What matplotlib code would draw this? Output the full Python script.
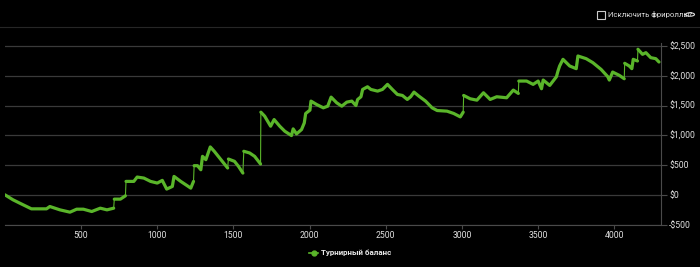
import matplotlib
matplotlib.use("Agg")
import matplotlib.pyplot as plt
from matplotlib.patches import Rectangle, Circle
from matplotlib.lines import Line2D
import numpy as np

plt.rcParams['font.family'] = ['Roboto', 'DejaVu Sans']

tournaments = [0, 53, 97, 174, 273, 295, 361, 427, 471, 515, 570, 626, 670, 714, 718, 758, 791, 795,
               846, 868, 912, 956, 1000, 1033, 1062, 1099, 1110, 1154, 1187, 1220, 1238, 1242, 1264,
               1286, 1297, 1319, 1348, 1374, 1418, 1462, 1467, 1507, 1533, 1562, 1568, 1606, 1639,
               1678, 1680, 1705, 1744, 1767, 1804, 1837, 1881, 1892, 1914, 1947, 1965, 1974, 2002,
               2009, 2046, 2090, 2119, 2141, 2178, 2211, 2244, 2277, 2304, 2315, 2337, 2348, 2380,
               2402, 2446, 2478, 2511, 2543, 2576, 2609, 2641, 2663, 2685, 2717, 2761, 2804, 2837,
               2902, 2946, 2989, 3008, 3011, 3054, 3098, 3141, 3185, 3228, 3293, 3337, 3370, 3373,
               3424, 3467, 3500, 3522, 3533, 3576, 3620, 3630, 3641, 3663, 3707, 3750, 3761, 3815,
               3859, 3913, 3957, 3967, 3989, 4033, 4065, 4068, 4098, 4115, 4124, 4152, 4155, 4185,
               4207, 4239, 4272, 4293]
balance = [0, -84, -140, -236, -236, -197, -253, -292, -242, -242, -281, -225, -253, -225, -73, -73,
           -17, 225, 225, 298, 281, 225, 197, 242, 96, 140, 309, 225, 169, 112, 225, 489, 489,
           421, 646, 590, 804, 731, 590, 450, 601, 562, 478, 365, 731, 703, 646,
           517, 1388, 1321, 1152, 1264, 1152, 1068, 995, 1107, 1023, 1096, 1208, 1366, 1422,
           1574, 1517, 1461, 1489, 1641, 1545, 1489, 1557, 1574, 1500, 1601, 1647, 1770, 1815,
           1770, 1742, 1770, 1855, 1770, 1686, 1669, 1602, 1647, 1725, 1658, 1574, 1461, 1416,
           1405, 1366, 1309, 1388, 1669, 1613, 1590, 1714, 1602, 1647, 1630, 1759, 1703, 1911,
           1911, 1855, 1911, 1782, 1928, 1838, 1984, 2079, 2164, 2276, 2164, 2119, 2332, 2287,
           2220, 2107, 1984, 1928, 2062, 2006, 1950, 2209, 2164, 2119, 2276, 2248, 2445, 2360,
           2388, 2304, 2287, 2231]
y_ticks = [-500, 0, 500, 1000, 1500, 2000, 2500]
y_labels = ['-$500', '$0', '$500', '$1,000', '$1,500', '$2,000', '$2,500']
x_ticks = [500, 1000, 1500, 2000, 2500, 3000, 3500, 4000]

GREEN = '#5ab52a'
BG = '#000000'
TXT = '#e0e0e0'

fig = plt.figure(figsize=(7, 2.67), dpi=100)
fig.patch.set_facecolor(BG)
ax = fig.add_axes([0.007, 0.159, 0.937, 0.681])
ax.set_facecolor(BG)

x = np.array(tournaments, dtype=float)
y = np.array(balance, dtype=float)
LW = 2.3
seg_x, seg_y = [x[0]], [y[0]]
for i in range(1, len(x)):
    dx = x[i] - x[i - 1]
    dy = y[i] - y[i - 1]
    if abs(dy) > 120 and dx <= 6:
        ax.plot(seg_x, seg_y, color=GREEN, lw=LW, solid_capstyle='round', solid_joinstyle='round', zorder=3)
        ax.plot([x[i - 1], x[i]], [y[i - 1], y[i]], color=GREEN, lw=0.8, zorder=3)
        seg_x, seg_y = [x[i]], [y[i]]
    else:
        seg_x.append(x[i]); seg_y.append(y[i])
ax.plot(seg_x, seg_y, color=GREEN, lw=LW, solid_capstyle='round', solid_joinstyle='round', zorder=3)

ax.set_xlim(0, 4305)
ax.set_ylim(-500, 2555)
ax.set_yticks(y_ticks)
ax.set_yticklabels(y_labels)
ax.set_xticks(x_ticks)
ax.set_xticklabels([str(t) for t in x_ticks])
ax.yaxis.tick_right()
ax.grid(axis='y', color='#3a3a3a', lw=0.9)
ax.set_axisbelow(True)
for s in ['top', 'left']:
    ax.spines[s].set_visible(False)
ax.spines['right'].set_color('#4a4a4a')
ax.spines['bottom'].set_color('#4a4a4a')
ax.tick_params(axis='y', colors='#4a4a4a', labelcolor=TXT, labelsize=6.2, length=4, pad=2)
ax.tick_params(axis='x', colors='#4a4a4a', labelcolor=TXT, labelsize=6.2, length=3, pad=2)

# top separator
fig.add_artist(Line2D([0, 1], [1 - 27 / 267, 1 - 27 / 267], color='#262626', lw=0.8, transform=fig.transFigure))
# checkbox
fig.add_artist(Rectangle((597 / 700, 1 - 18.5 / 267), 8 / 700, 8 / 267, fill=False,
                         edgecolor='#cccccc', lw=0.8, transform=fig.transFigure))
fig.text(607.5 / 700, 1 - 14.5 / 267, 'Исключить фрироллы', color=TXT, fontsize=5.6,
         va='center', ha='left')
fig.add_artist(Circle((690 / 700, 1 - 14.5 / 267), 4.5 / 700, fill=False, edgecolor='#dddddd',
                      lw=0.8, transform=fig.transFigure))
fig.text(690 / 700, 1 - 14.7 / 267, '?', color=TXT, fontsize=4.6, va='center', ha='center',
         fontweight='bold')

# legend
fig.add_artist(Line2D([309 / 700, 318 / 700], [1 - 253 / 267] * 2, color=GREEN, lw=1.2,
                      transform=fig.transFigure))
fig.add_artist(Line2D([313.5 / 700], [1 - 253 / 267], color=GREEN, marker='o', markersize=3.5,
                      transform=fig.transFigure, lw=0))
fig.text(321 / 700, 1 - 253 / 267, 'Турнирный баланс', color='#e8e8e8', fontsize=5.8,
         va='center', ha='left', fontweight='bold')

fig.savefig('out.png', dpi=100, facecolor=BG)
